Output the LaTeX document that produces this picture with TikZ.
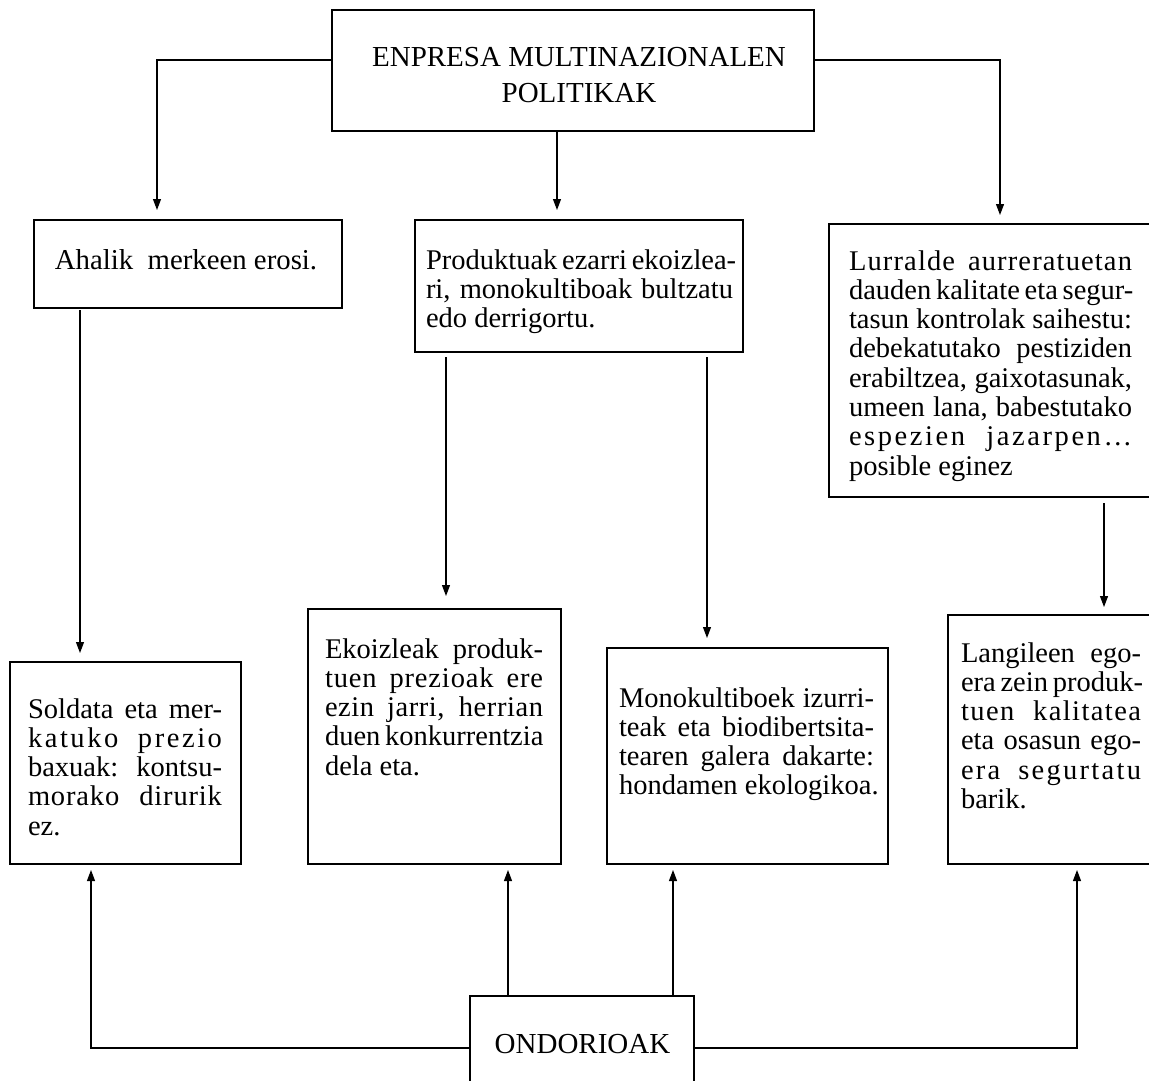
\documentclass[tikz,border=0pt]{standalone}
\usepackage{fontspec}
\setmainfont{Liberation Serif}
\usetikzlibrary{arrows.meta}
\newcommand\jl[2]{\makebox[#1][s]{#2}}
\newcommand\ls[1]{\addfontfeature{LetterSpace=#1}}
\begin{document}
\begin{tikzpicture}[x=1pt,y=-1pt,
  box/.style={draw=black,line width=1.1pt,rectangle,inner sep=0pt,outer sep=0pt},
  txt/.style={inner sep=0pt,outer sep=0pt,anchor=north west,align=left,font=\fontsize{28.5}{29.3}\selectfont},
  ctxt/.style={inner sep=0pt,outer sep=0pt,anchor=base,font=\fontsize{28.8}{29.3}\selectfont},
  arr/.style={line width=1.1pt,-{Triangle[length=11pt,width=8pt]}},
  ln/.style={line width=1.1pt}]
\useasboundingbox (0,0) rectangle (1149,1081);
\clip (0,0) rectangle (1149,1081);
\fill[white] (0,0) rectangle (1149,1081);

% boxes
\node[box,minimum width=482pt,minimum height=121pt] (top) at (573,70.5) {};
\node[box,minimum width=308pt,minimum height=88pt] (ahalik) at (188,264) {};
\node[box,minimum width=328pt,minimum height=132pt] (prod) at (579,286) {};
\node[box,minimum width=326pt,minimum height=273pt] (lurr) at (992,360.5) {};
\node[box,minimum width=231pt,minimum height=202pt] (soldata) at (125.5,763) {};
\node[box,minimum width=253pt,minimum height=255pt] (ekoiz) at (434.5,736.5) {};
\node[box,minimum width=281pt,minimum height=216pt] (mono) at (747.5,756) {};
\node[box,minimum width=207pt,minimum height=249pt] (langi) at (1051.5,739.5) {};
\node[box,minimum width=224pt,minimum height=114pt] (ondo) at (582,1053) {};

% texts
\node[inner sep=0pt,anchor=north,align=center,font=\fontsize{29}{36}\selectfont] (ttop) at (579,40.8)
  {\strut ENPRESA MULTINAZIONALEN\\POLITIKAK};
\node[ctxt] (tahalik) at (186,269) {Ahalik\ \ merkeen erosi.};
\node[txt] (tprod) at (426,248.5) {\strut\jl{307pt}{Produktuak ezarri ekoizlea-}\\
  \jl{307pt}{ri, monokultiboak bultzatu}\\
  edo derrigortu.};
\node[txt] (tlurr) at (849,249.5) {\strut\jl{283pt}{\ls{4}Lurralde aurreratuetan}\\
  \jl{283pt}{dauden kalitate eta segur-}\\
  \jl{283pt}{tasun kontrolak saihestu:}\\
  \jl{283pt}{debekatutako pestiziden}\\
  \jl{283pt}{erabiltzea, gaixotasunak,}\\
  \jl{283pt}{umeen lana, babestutako}\\
  \jl{283pt}{\ls{9}espezien jazarpen…}\\
  posible eginez};
\node[txt] (tsoldata) at (28,697.5) {\strut\jl{194pt}{Soldata eta mer-}\\
  \jl{194pt}{\ls{9}katuko prezio}\\
  \jl{194pt}{baxuak: kontsu-}\\
  \jl{194pt}{\ls{3}morako dirurik}\\
  ez.};
\node[txt] (tekoiz) at (325,637.5) {\strut\jl{218pt}{Ekoizleak produk-}\\
  \jl{218pt}{\ls{3}tuen prezioak ere}\\
  \jl{218pt}{\ls{2}ezin jarri, herrian}\\
  \jl{218pt}{duen konkurrentzia}\\
  dela eta.};
\node[txt] (tmono) at (619,686.5) {\strut\jl{255pt}{Monokultiboek izurri-}\\
  \jl{255pt}{teak eta biodibertsita-}\\
  \jl{255pt}{tearen galera dakarte:}\\
  hondamen ekologikoa.};
\node[txt] (tlangi) at (961,641.5) {\strut\jl{180pt}{Langileen ego-}\\
  \jl{180pt}{era zein produk-}\\
  \jl{180pt}{\ls{5}tuen kalitatea}\\
  \jl{180pt}{eta osasun ego-}\\
  \jl{180pt}{\ls{8}era segurtatu}\\
  barik.};
\node[ctxt,font=\fontsize{29}{29.3}\selectfont] (tondo) at (582.5,1053) {ONDORIOAK};

% connectors from the top box
\draw[arr,shorten >=10pt] ([yshift=10.5pt]top.west) -| ([xshift=-31pt]ahalik.north);
\draw[arr,shorten >=10pt] ([xshift=-16pt]top.south) -- ([xshift=-22pt]prod.north);
\draw[arr,shorten >=9pt] ([yshift=10.5pt]top.east) -| ([xshift=8pt]lurr.north);

% middle row to bottom row
\draw[arr,shorten <=2pt,shorten >=9pt] ([xshift=-108pt]ahalik.south) -- ([xshift=-108pt]ahalik.south |- soldata.north);
\draw[arr,shorten <=5pt,shorten >=13pt] ([xshift=-133pt]prod.south) -- ([xshift=-133pt]prod.south |- ekoiz.north);
\draw[arr,shorten <=5pt,shorten >=10pt] ([xshift=128pt]prod.south) -- ([xshift=128pt]prod.south |- mono.north);
\draw[arr,shorten <=6pt,shorten >=8pt] ([xshift=112pt]lurr.south) -- ([xshift=112pt]lurr.south |- langi.north);

% from ONDORIOAK up
\draw[arr,shorten >=6pt] ([yshift=5pt]ondo.west) -| ([xshift=-34.5pt]soldata.south);
\draw[arr,shorten >=6pt] ([yshift=5pt]ondo.east) -| ([xshift=25.5pt]langi.south);
\draw[arr,shorten >=6pt] ([xshift=-74pt]ondo.north) -- ([xshift=-74pt]ondo.north |- ekoiz.south);
\draw[arr,shorten >=6pt] ([xshift=91pt]ondo.north) -- ([xshift=91pt]ondo.north |- mono.south);
\end{tikzpicture}
\end{document}
